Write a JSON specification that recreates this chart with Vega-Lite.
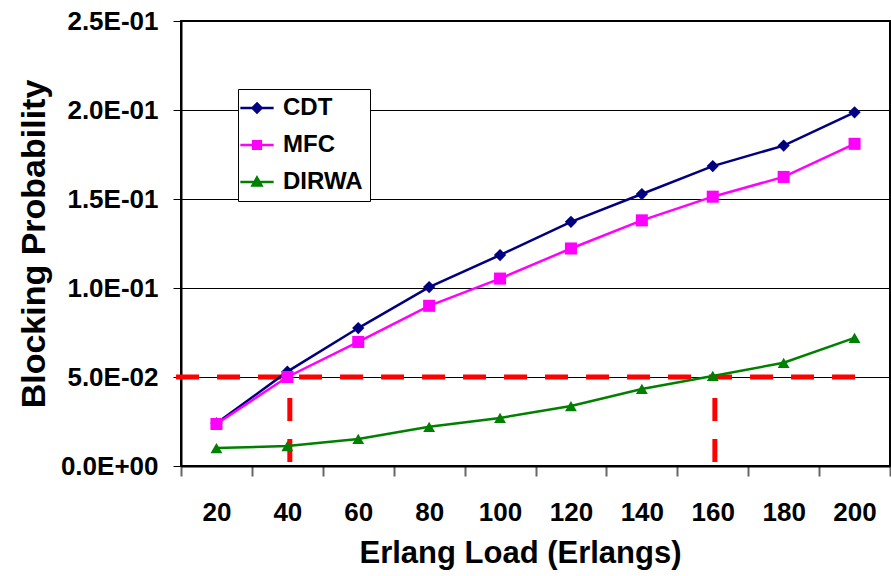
{
  "$schema": "https://vega.github.io/schema/vega-lite/v6.json",
  "width": 709,
  "height": 445,
  "autosize": {"type": "none"},
  "padding": {"left": 181, "top": 21, "right": 1, "bottom": 110},
  "background": "white",
  "config": {
    "view": {"stroke": "black", "strokeWidth": 2},
    "font": "Liberation Sans"
  },
  "data": {
    "values": [
      {"series": "CDT", "load": 20, "bp": 0.024},
      {"series": "CDT", "load": 40, "bp": 0.053},
      {"series": "CDT", "load": 60, "bp": 0.0775},
      {"series": "CDT", "load": 80, "bp": 0.1005},
      {"series": "CDT", "load": 100, "bp": 0.1185},
      {"series": "CDT", "load": 120, "bp": 0.1372},
      {"series": "CDT", "load": 140, "bp": 0.1528},
      {"series": "CDT", "load": 160, "bp": 0.1685},
      {"series": "CDT", "load": 180, "bp": 0.180},
      {"series": "CDT", "load": 200, "bp": 0.1987},
      {"series": "MFC", "load": 20, "bp": 0.0236},
      {"series": "MFC", "load": 40, "bp": 0.050},
      {"series": "MFC", "load": 60, "bp": 0.0697},
      {"series": "MFC", "load": 80, "bp": 0.090},
      {"series": "MFC", "load": 100, "bp": 0.1053},
      {"series": "MFC", "load": 120, "bp": 0.1222},
      {"series": "MFC", "load": 140, "bp": 0.138},
      {"series": "MFC", "load": 160, "bp": 0.1513},
      {"series": "MFC", "load": 180, "bp": 0.1624},
      {"series": "MFC", "load": 200, "bp": 0.181},
      {"series": "DIRWA", "load": 20, "bp": 0.0101},
      {"series": "DIRWA", "load": 40, "bp": 0.0112},
      {"series": "DIRWA", "load": 60, "bp": 0.0152},
      {"series": "DIRWA", "load": 80, "bp": 0.022},
      {"series": "DIRWA", "load": 100, "bp": 0.027},
      {"series": "DIRWA", "load": 120, "bp": 0.0337},
      {"series": "DIRWA", "load": 140, "bp": 0.0433},
      {"series": "DIRWA", "load": 160, "bp": 0.0506},
      {"series": "DIRWA", "load": 180, "bp": 0.058},
      {"series": "DIRWA", "load": 200, "bp": 0.072}
    ]
  },
  "encoding": {
    "x": {
      "field": "load",
      "type": "quantitative",
      "title": "Erlang Load (Erlangs)",
      "scale": {"domain": [10, 210], "nice": false, "zero": false},
      "axis": {
        "values": [10, 20, 30, 40, 50, 60, 70, 80, 90, 100, 110, 120, 130, 140, 150, 160, 170, 180, 190, 200, 210],
        "labelExpr": "datum.value % 20 == 0 ? datum.label : ''",
        "labelOverlap": false,
        "grid": false,
        "domainColor": "black",
        "domainWidth": 2,
        "tickSize": 10,
        "tickWidth": 2,
        "tickColor": "#666666",
        "tickOpacity": {"condition": {"test": "datum.value % 20 == 10", "value": 1}, "value": 0},
        "labelFont": "Liberation Sans",
        "labelFontSize": 26,
        "labelFontWeight": "bold",
        "labelColor": "black",
        "labelPadding": 23,
        "titleFont": "Liberation Sans",
        "titleFontSize": 31,
        "titleFontWeight": "bold",
        "titleColor": "black",
        "titlePadding": 13,
        "titleX": 339
      }
    },
    "y": {
      "field": "bp",
      "type": "quantitative",
      "title": "Blocking Probability",
      "scale": {"domain": [0, 0.25], "nice": false},
      "axis": {
        "values": [0, 0.05, 0.1, 0.15, 0.2, 0.25],
        "labelExpr": "datum.value == 0 ? '0.0E+00' : datum.value < 0.099 ? format(datum.value*100, '.1f') + 'E-02' : format(datum.value*10, '.1f') + 'E-01'",
        "grid": true,
        "gridColor": "black",
        "gridWidth": 1,
        "gridOpacity": 1,
        "domainColor": "black",
        "domainWidth": 2,
        "tickSize": 8,
        "tickColor": "black",
        "tickWidth": 1,
        "labelFont": "Liberation Sans",
        "labelFontSize": 26,
        "labelFontWeight": "bold",
        "labelColor": "black",
        "labelPadding": 15,
        "titleFont": "Liberation Sans",
        "titleFontSize": 34,
        "titleFontWeight": "bold",
        "titleColor": "black",
        "titlePadding": 9
      }
    }
  },
  "layer": [
    {
      "data": {
        "values": [
          {"load": 8.6, "bp": 0.05, "load2": 205, "bp2": 0.05},
          {"load": 40.7, "bp": 0.0023, "load2": 40.7, "bp2": 0.05},
          {"load": 160.6, "bp": 0.0023, "load2": 160.6, "bp2": 0.05}
        ]
      },
      "mark": {"type": "rule", "color": "#FF0000", "strokeWidth": 5, "strokeDash": [23, 18]},
      "encoding": {
        "x2": {"field": "load2"},
        "y2": {"field": "bp2"}
      }
    },
    {
      "mark": {"type": "line", "strokeWidth": 2.5},
      "encoding": {
        "color": {
          "field": "series",
          "type": "nominal",
          "scale": {"domain": ["CDT", "MFC", "DIRWA"], "range": ["#000080", "#FF00FF", "#008000"]},
          "legend": null
        }
      }
    },
    {
      "mark": {"type": "point", "filled": true, "opacity": 1},
      "encoding": {
        "color": {
          "field": "series",
          "type": "nominal",
          "scale": {"domain": ["CDT", "MFC", "DIRWA"], "range": ["#000080", "#FF00FF", "#008000"]},
          "legend": null
        },
        "shape": {
          "field": "series",
          "type": "nominal",
          "scale": {"domain": ["CDT", "MFC", "DIRWA"], "range": ["diamond", "square", "triangle-up"]},
          "legend": null
        },
        "size": {
          "field": "series",
          "type": "nominal",
          "scale": {"domain": ["CDT", "MFC", "DIRWA"], "range": [150, 140, 180]},
          "legend": null
        }
      }
    },
    {
      "mark": {"type": "point", "filled": false, "size": 0, "strokeWidth": 2.5, "opacity": 1},
      "encoding": {
        "color": {
          "field": "series",
          "type": "nominal",
          "scale": {"domain": ["CDT", "MFC", "DIRWA"], "range": ["#000080", "#FF00FF", "#008000"]},
          "legend": {
            "orient": "none", "legendX": 57, "legendY": 68, "title": null,
            "labelFont": "Liberation Sans", "labelFontSize": 24, "labelFontWeight": "bold", "labelColor": "black",
            "symbolSize": 81, "symbolStrokeWidth": 2.5, "strokeColor": "black", "fillColor": "white",
            "padding": 7, "rowPadding": 13, "labelOffset": 14
          }
        },
        "shape": {
          "field": "series",
          "type": "nominal",
          "scale": {
            "domain": ["CDT", "MFC", "DIRWA"],
            "range": [
              "M-3.7,0H3.7M0,-1L1,0L0,1L-1,0Z M0,-0.5L0.5,0L0,0.5L-0.5,0Z",
              "M-3.7,0H3.7M-0.85,-0.85H0.85V0.85H-0.85Z M-0.4,-0.4H0.4V0.4H-0.4Z",
              "M-3.7,0H3.7M0,-1L1,0.8H-1Z M0,-0.3L0.4,0.5H-0.4Z"
            ]
          },
          "legend": {
            "orient": "none", "legendX": 57, "legendY": 68, "title": null,
            "labelFont": "Liberation Sans", "labelFontSize": 24, "labelFontWeight": "bold", "labelColor": "black",
            "symbolSize": 81, "symbolStrokeWidth": 2.5, "strokeColor": "black", "fillColor": "white",
            "padding": 7, "rowPadding": 13, "labelOffset": 14
          }
        }
      }
    }
  ],
  "resolve": {"scale": {"color": "independent", "shape": "independent"}}
}
